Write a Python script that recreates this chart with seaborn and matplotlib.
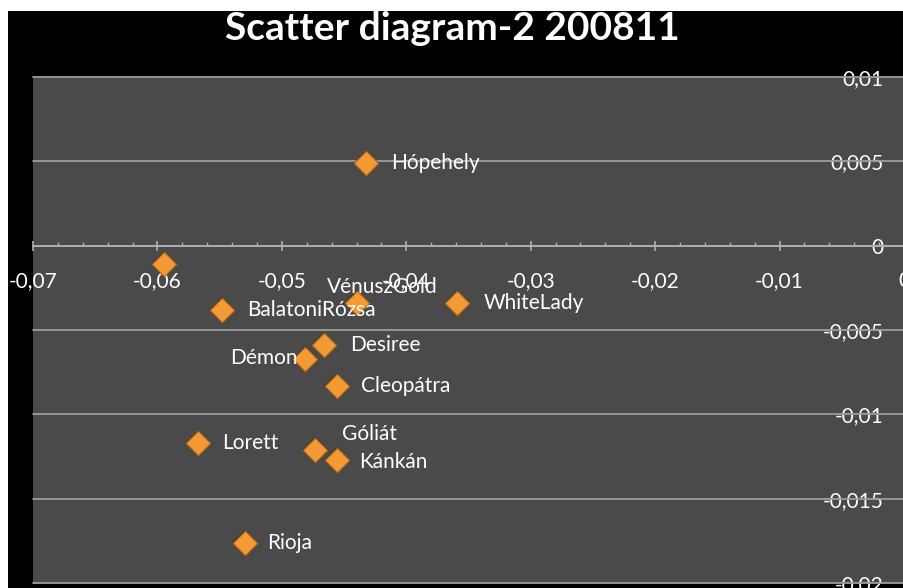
import matplotlib
matplotlib.use("Agg")
import matplotlib.pyplot as plt
from matplotlib.patches import Rectangle
from matplotlib.ticker import MultipleLocator, FixedLocator, FuncFormatter
import seaborn as sns
import pandas as pd

# Potato varieties: two score components
varieties = ["", "Hópehely", "VénuszGold", "WhiteLady", "BalatoniRózsa", "Desiree",
             "Démon", "Cleopátra", "Lorett", "Góliát", "Kánkán", "Rioja"]
comp_x = [-0.0595, -0.0432, -0.0440, -0.0359, -0.0548, -0.0466,
          -0.0481, -0.0456, -0.0567, -0.0473, -0.0456, -0.0530]
comp_y = [-0.0011, 0.0049, -0.0034, -0.0034, -0.0038, -0.0059,
          -0.0067, -0.0083, -0.0117, -0.0121, -0.0127, -0.0176]

x_ticks = [-0.07, -0.06, -0.05, -0.04, -0.03, -0.02, -0.01, 0.0]
y_ticks = [0.01, 0.005, 0.0, -0.005, -0.01, -0.015, -0.02]

# label placement (pixel offsets from the marker, alignment)
label_pos = {
    "Hópehely": (25, 0, "left"),
    "VénuszGold": (26, 16, "center"),
    "WhiteLady": (26, 0, "left"),
    "BalatoniRózsa": (25, 0, "left"),
    "Desiree": (26, 0, "left"),
    "Démon": (-8, 1, "right"),
    "Cleopátra": (24, 0, "left"),
    "Lorett": (24, 0, "left"),
    "Góliát": (27, 16, "left"),
    "Kánkán": (23, -2, "left"),
    "Rioja": (23, 0, "left"),
}

df = pd.DataFrame({"name": varieties, "x": comp_x, "y": comp_y})

sns.set_theme(style="white")
plt.rcParams["font.family"] = ["Lato", "DejaVu Sans"]

W, H = 904, 588
fig = plt.figure(figsize=(W / 100, H / 100), dpi=100, facecolor="white")
fig.patches.append(Rectangle((8 / W, -0.05), 1.1, 1.05 - 11 / H, transform=fig.transFigure,
                             facecolor="black", edgecolor="none", zorder=-5))

ax = fig.add_axes([33 / W, 5 / H, 871 / W, 506 / H])
ax.set_facecolor("#4a4a4a")

# soft shadow under each marker, then the marker itself
sns.scatterplot(data=df, x="x", y="y", marker="D", s=175, color="#2e2a26",
                edgecolor="none", alpha=0.45, ax=ax, legend=False, zorder=3)
sns.scatterplot(data=df, x="x", y="y", marker="D", s=150, color="#f39a32",
                edgecolor="#c66e14", linewidth=0.8, ax=ax, legend=False, zorder=4)

for name, px, py in zip(varieties, comp_x, comp_y):
    if not name:
        continue
    dx, dy, ha = label_pos[name]
    ax.annotate(name, (px, py), xytext=(dx, dy), textcoords="offset pixels",
                ha=ha, va="center", color="white", fontsize=15, zorder=5)

ax.set_xlim(-0.07, 0.0)
ax.set_ylim(-0.02, 0.01)
ax.set_xlabel("")
ax.set_ylabel("")

# horizontal gridlines
for yv in y_ticks:
    ax.axhline(yv, color="#9c9c9c", lw=1.3, zorder=1, clip_on=False)


def fmt(v, _pos=None):
    if abs(v) < 1e-12:
        return "0"
    s = f"{v:.3f}".rstrip("0")
    return s.replace(".", ",")


for side in ["top", "right"]:
    ax.spines[side].set_visible(False)
ax.spines["bottom"].set_position(("data", 0))
ax.spines["bottom"].set_color("#b0b0b0")
ax.spines["bottom"].set_linewidth(1.3)
ax.spines["left"].set_position(("data", 0))
ax.spines["left"].set_visible(False)

ax.xaxis.set_major_locator(FixedLocator(x_ticks))
ax.xaxis.set_minor_locator(MultipleLocator(0.002))
ax.xaxis.set_major_formatter(FuncFormatter(fmt))
ax.yaxis.set_major_locator(FixedLocator(y_ticks))
ax.yaxis.set_major_formatter(FuncFormatter(fmt))

ax.tick_params(axis="x", which="major", direction="inout", length=7, width=1.2,
               color="#b0b0b0", pad=15, labelsize=15, labelcolor="white", bottom=True)
ax.tick_params(axis="x", which="minor", direction="in", length=3, width=1.0,
               color="#b0b0b0", bottom=True)
ax.tick_params(axis="y", which="major", length=0, pad=15, labelsize=15,
               labelcolor="white", left=True)
for lab in ax.get_xticklabels() + ax.get_yticklabels():
    lab.set_clip_on(False)

fig.text(452 / W, 1 - 29 / H, "Scatter diagram-2 200811", ha="center", va="center",
         color="white", fontsize=28, fontweight="bold")

fig.savefig("out.png", dpi=100, facecolor=fig.get_facecolor())
